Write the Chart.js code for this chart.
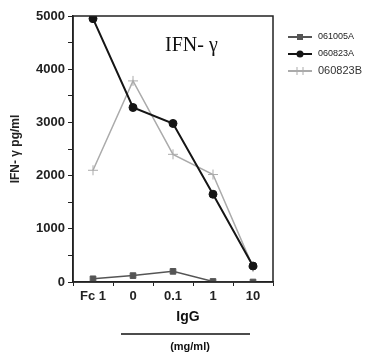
<!DOCTYPE html>
<html>
<head>
<meta charset="utf-8">
<script src="https://cdn.jsdelivr.net/npm/chart.js@4.4.1/dist/chart.umd.min.js"></script>
<style>
  html, body { margin: 0; padding: 0; background: #fff; }
  #wrap { width: 374px; height: 356px; }
</style>
</head>
<body>
<div id="wrap"><canvas id="ifnChart" width="374" height="356"></canvas></div>
<script>
// Data
const categories = ['Fc 1', '0', '0.1', '1', '10'];
const seriesNames = ['061005A', '060823A', '060823B'];
const s061005A = [60, 120, 200, 10, 0];
const s060823A = [4950, 3280, 2980, 1650, 300];
const s060823B = [2100, 3780, 2400, 2020, 280];
const yTicks = [0, 1000, 2000, 3000, 4000, 5000];

const seriesColors = ['#555555', '#151515', '#ababab'];
const seriesPoints = ['rect', 'circle', 'cross'];

// Kotak area plot, judul dalam plot, legend, dan label IgG
const decorPlugin = {
  id: 'decor',
  afterDraw(chart) {
    const { ctx, chartArea: a } = chart;
    ctx.save();
    ctx.strokeStyle = '#222';
    ctx.lineWidth = 1.5;
    ctx.strokeRect(a.left, a.top, a.right - a.left, a.bottom - a.top);

    ctx.fillStyle = '#111';
    ctx.font = '20px "Liberation Serif"';
    ctx.textBaseline = 'middle';
    ctx.fillText('IFN- γ', 165, 46);

    // legend
    chart.data.datasets.forEach((ds, i) => {
      const y = 37 + i * 17;
      ctx.strokeStyle = ds.borderColor;
      ctx.lineWidth = 2;
      ctx.beginPath();
      ctx.moveTo(288, y);
      ctx.lineTo(312, y);
      ctx.stroke();
      ctx.fillStyle = ds.borderColor;
      if (ds.pointStyle === 'rect') ctx.fillRect(297, y - 3, 6, 6);
      if (ds.pointStyle === 'circle') { ctx.beginPath(); ctx.arc(300, y, 3.5, 0, Math.PI * 2); ctx.fill(); }
      if (ds.pointStyle === 'cross') { ctx.lineWidth = 1; ctx.beginPath(); ctx.moveTo(297, y - 4); ctx.lineTo(297, y + 4); ctx.moveTo(303, y - 4); ctx.lineTo(303, y + 4); ctx.stroke(); }
      ctx.fillStyle = i === 2 ? '#333' : '#222';
      ctx.font = i === 2 ? '11px "Liberation Sans"' : '9px "Liberation Sans"';
      ctx.fillText(ds.label, 318, y);
    });

    // IgG, garis, (mg/ml)
    ctx.fillStyle = '#111';
    ctx.textAlign = 'center';
    ctx.font = 'bold 14px "Liberation Sans"';
    ctx.fillText('IgG', 188, 317);
    ctx.strokeStyle = '#111';
    ctx.lineWidth = 1.5;
    ctx.beginPath();
    ctx.moveTo(121, 334);
    ctx.lineTo(250, 334);
    ctx.stroke();
    ctx.font = 'bold 11px "Liberation Sans"';
    ctx.fillText('(mg/ml)', 190, 347);
    ctx.restore();
  }
};

const ctx = document.getElementById('ifnChart').getContext('2d');
new Chart(ctx, {
  type: 'line',
  data: {
    labels: categories,
    datasets: [s061005A, s060823A, s060823B].map((vals, i) => ({
      label: seriesNames[i],
      data: vals,
      borderColor: seriesColors[i],
      backgroundColor: seriesColors[i],
      borderWidth: i === 1 ? 2 : 1.5,
      pointStyle: seriesPoints[i],
      pointRadius: i === 2 ? 5 : 4,
      pointBorderWidth: 1,
      tension: 0
    }))
  },
  options: {
    responsive: false,
    animation: false,
    layout: { padding: { left: 0, right: 101, top: 16, bottom: 0 } },
    plugins: {
      legend: { display: false },
      tooltip: { enabled: false }
    },
    scales: {
      x: {
        offset: true,
        afterFit(scale) { scale.height = 74; },
        border: { color: '#222', width: 1.5 },
        grid: { display: true, drawOnChartArea: false, offset: true, tickLength: 4, color: '#222' },
        ticks: { color: '#222', font: { size: 13, family: 'Liberation Sans', weight: 'bold' }, padding: 3 }
      },
      y: {
        min: 0,
        max: 5000,
        afterFit(scale) { scale.width = 73; },
        border: { color: '#222', width: 1.5 },
        grid: { display: true, drawOnChartArea: false, tickLength: 5, color: '#222' },
        afterBuildTicks(scale) {
          const t = [];
          for (let v = 0; v <= 5000; v += 500) t.push({ value: v });
          scale.ticks = t;
        },
        ticks: {
          color: '#222',
          font: { size: 13, family: 'Liberation Sans', weight: 'bold' },
          padding: 3,
          callback: v => (yTicks.includes(v) ? v : '')
        },
        title: {
          display: true,
          text: 'IFN- γ pg/ml',
          color: '#222',
          font: { size: 12, family: 'Liberation Sans', weight: 'bold' },
          padding: { top: 8, bottom: 0 }
        }
      }
    }
  },
  plugins: [decorPlugin]
});
</script>
</body>
</html>
